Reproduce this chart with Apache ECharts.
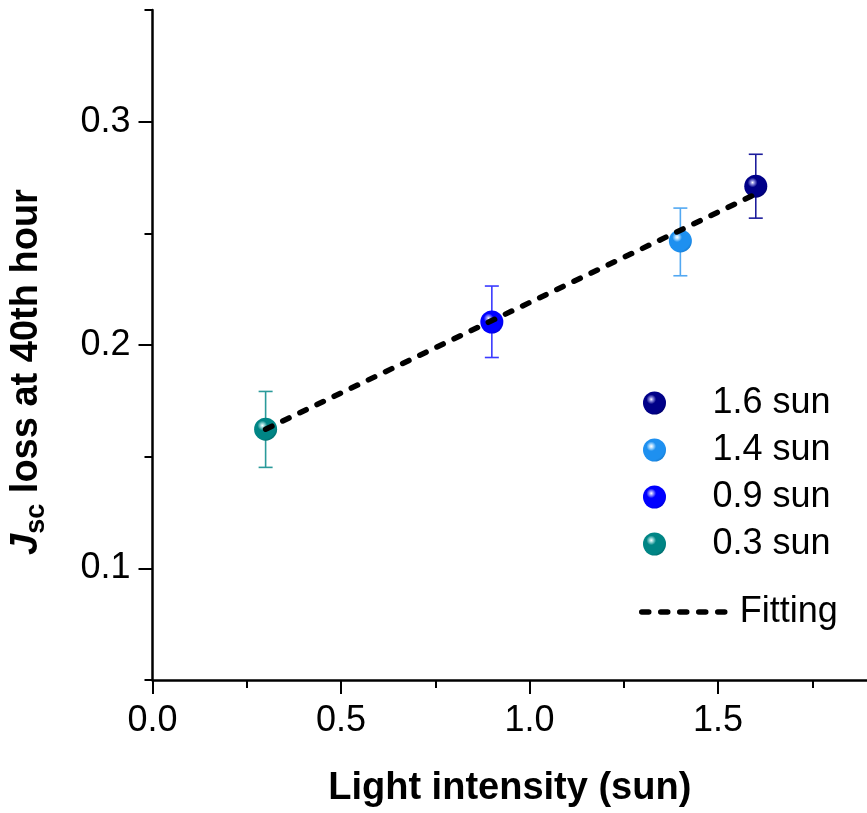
<!DOCTYPE html>
<html>
<head>
<meta charset="utf-8">
<script src="https://cdn.jsdelivr.net/npm/echarts@6/dist/echarts.min.js"></script>
<style>html,body{margin:0;padding:0;background:#fff}#c{width:867px;height:813px}</style>
</head>
<body>
<div id="c"></div>
<script>
// ---- data ----
const seriesNames = ['1.6 sun', '1.4 sun', '0.9 sun', '0.3 sun'];
const xValues = [1.6, 1.4, 0.9, 0.3];
const yValues = [0.2711, 0.2466, 0.2103, 0.1623];
const yUpper  = [0.2854, 0.2613, 0.2264, 0.1792];
const yLower  = [0.2568, 0.2310, 0.1944, 0.1452];
const fitX = [0.3, 1.6];
const fitY = [0.1623, 0.2676];
const xTickLabels = [0, 0.5, 1.0, 1.5];
const xMinorTicks = [0.25, 0.75, 1.25, 1.75];
const yTickLabels = [0.1, 0.2, 0.3];
const yMinorTicks = [0.05, 0.15, 0.25, 0.35];

// ---- styles ----
const baseColors = ['#000088', '#1e90f0', '#0000ff', '#008585'];
const darkColors = ['#000060', '#1476c8', '#0000c8', '#006666'];
const lightColors = ['#9090e0', '#b8e0ff', '#a0a0ff', '#a0dcdc'];
const errColors = ['#1c1c9c', '#52a8f2', '#3a3aff', '#2a9a9a'];
const FONT = 'Liberation Sans, Arial, Helvetica, sans-serif';
const DASH = [7, 12];

function sphere(i) {
  return {
    type: 'radial', x: 0.36, y: 0.34, r: 0.75,
    colorStops: [
      { offset: 0, color: '#ffffff' },
      { offset: 0.1, color: lightColors[i] },
      { offset: 0.28, color: baseColors[i] },
      { offset: 0.8, color: baseColors[i] },
      { offset: 1, color: darkColors[i] }
    ]
  };
}

const chart = echarts.init(document.getElementById('c'), null, { renderer: 'canvas' });

const scatterSeries = seriesNames.map((name, i) => ({
  name: name,
  type: 'scatter',
  symbol: 'circle',
  symbolSize: 23,
  z: 5,
  itemStyle: { color: sphere(i), opacity: 1 },
  data: [[xValues[i], yValues[i]]]
}));

const errData = xValues.map((x, i) => [x, yLower[i], yUpper[i], i]);

const tickStyle = { color: '#000', width: 2 };

const option = {
  animation: false,
  backgroundColor: '#ffffff',
  grid: { left: 152, top: 10, right: 0, bottom: 132, containLabel: false },
  xAxis: [
    {
      type: 'value', min: 0, max: 1.895,
      name: 'Light intensity (sun)', nameLocation: 'middle', nameGap: 90,
      nameTextStyle: { fontFamily: FONT, fontWeight: 'bold', fontSize: 38, color: '#000' },
      axisLine: { show: true, onZero: false, lineStyle: { color: '#000', width: 2.5 } },
      axisTick: { show: true, inside: false, length: 14, customValues: xTickLabels, lineStyle: tickStyle },
      splitLine: { show: false },
      axisLabel: {
        margin: 23, fontFamily: FONT, fontSize: 36, color: '#000',
        customValues: xTickLabels,
        formatter: v => v.toFixed(1)
      }
    },
    {
      type: 'value', min: 0, max: 1.895, position: 'bottom',
      axisLine: { show: false },
      axisTick: { show: true, inside: false, length: 8, customValues: xMinorTicks, lineStyle: tickStyle },
      axisLabel: { show: false },
      splitLine: { show: false }
    }
  ],
  yAxis: [
    {
      type: 'value', min: 0.05, max: 0.35,
      name: '{j|J}{sub|sc}{t| loss at 40th hour}',
      nameLocation: 'middle', nameGap: 102, nameRotate: 90,
      nameTextStyle: {
        fontFamily: FONT, color: '#000', padding: [0, 54, 0, 0],
        rich: {
          j: { fontFamily: FONT, fontWeight: 'bold', fontStyle: 'italic', fontSize: 38, color: '#000' },
          sub: { fontFamily: FONT, fontWeight: 'bold', fontSize: 27, color: '#000', padding: [20, 0, 0, 0] },
          t: { fontFamily: FONT, fontWeight: 'bold', fontSize: 38, color: '#000' }
        }
      },
      axisLine: { show: true, onZero: false, lineStyle: { color: '#000', width: 2.5 } },
      axisTick: { show: true, inside: false, length: 14, customValues: yTickLabels, lineStyle: tickStyle },
      splitLine: { show: false },
      axisLabel: {
        margin: 22, fontFamily: FONT, fontSize: 36, color: '#000',
        customValues: yTickLabels,
        formatter: v => v.toFixed(1)
      }
    },
    {
      type: 'value', min: 0.05, max: 0.35, position: 'left',
      axisLine: { show: false },
      axisTick: { show: true, inside: false, length: 8, customValues: yMinorTicks, lineStyle: tickStyle },
      axisLabel: { show: false },
      splitLine: { show: false }
    }
  ],
  legend: [
    {
      data: seriesNames, orient: 'vertical', left: 638, top: 380,
      itemWidth: 106, itemHeight: 23, itemGap: 11,
      textStyle: { fontFamily: FONT, fontSize: 36, color: '#000' },
      selectedMode: false
    },
    {
      data: ['Fitting'], orient: 'vertical', left: 634, top: 589,
      itemWidth: 93, itemHeight: 10,
      itemStyle: { opacity: 0 },
      lineStyle: { color: '#000', width: 5.5, type: DASH, cap: 'round' },
      textStyle: { fontFamily: FONT, fontSize: 36, color: '#000' },
      selectedMode: false
    }
  ],
  series: [
    {
      type: 'custom', name: 'err', z: 2, silent: true,
      data: errData,
      encode: { x: 0, y: [1, 2] },
      renderItem: function (params, api) {
        const x = api.value(0);
        const lo = api.coord([x, api.value(1)]);
        const hi = api.coord([x, api.value(2)]);
        const c = errColors[api.value(3)];
        const hw = 7;
        const st = { stroke: c, lineWidth: 1.6 };
        return {
          type: 'group',
          children: [
            { type: 'line', shape: { x1: lo[0], y1: lo[1], x2: hi[0], y2: hi[1] }, style: st },
            { type: 'line', shape: { x1: lo[0] - hw, y1: lo[1], x2: lo[0] + hw, y2: lo[1] }, style: st },
            { type: 'line', shape: { x1: hi[0] - hw, y1: hi[1], x2: hi[0] + hw, y2: hi[1] }, style: st }
          ]
        };
      }
    },
    ...scatterSeries,
    {
      name: 'Fitting', type: 'line', z: 10, symbol: 'none',
      data: fitX.map((x, i) => [x, fitY[i]]),
      itemStyle: { color: '#000' },
      lineStyle: { color: '#000', width: 5.5, type: DASH, cap: 'round' }
    }
  ]
};
chart.setOption(option);
</script>
</body>
</html>
